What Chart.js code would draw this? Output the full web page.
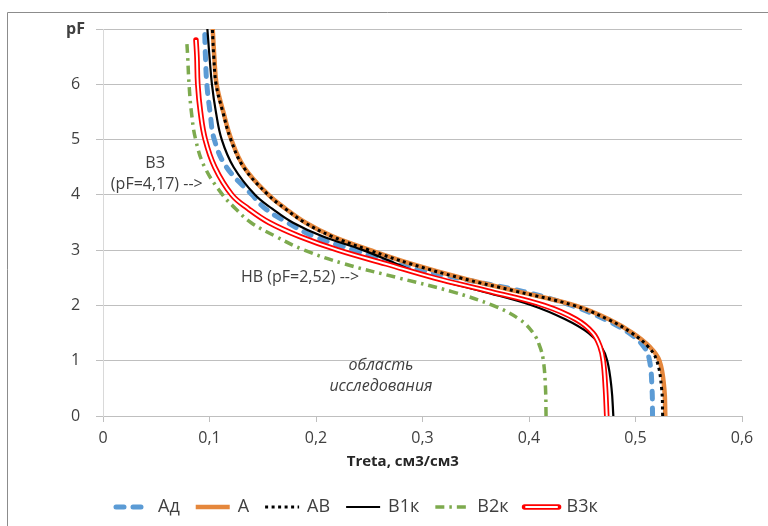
<!DOCTYPE html>
<html>
<head>
<meta charset="utf-8">
<title>pF</title>
<script src="https://cdn.jsdelivr.net/npm/chart.js@4/dist/chart.umd.min.js"></script>
<style>
  body { margin: 0; background: #fff; }
</style>
</head>
<body>
<canvas id="pfChart" width="768" height="526"></canvas>
<script>
// pF levels shared by all curves
const pF = [0, 0.5, 1, 1.25, 1.5, 1.75, 2, 2.25, 2.5, 2.75, 3, 3.25, 3.5, 3.75, 4, 4.5, 5, 5.5, 6, 6.5, 6.8, 7];

// moisture (Treta, cm3/cm3) per horizon at each pF level
const Ad  = [0.516, 0.5155, 0.5132, 0.508, 0.494, 0.471, 0.440, 0.395, 0.332, 0.276, 0.236, 0.198, 0.173, 0.1525, 0.140, 0.116, 0.1045, 0.1005, 0.0975, 0.0962, 0.0957, 0.0955];
const A   = [0.528, 0.527, 0.5225, 0.5135, 0.4975, 0.475, 0.443, 0.390, 0.336, 0.290, 0.251, 0.2155, 0.190, 0.1715, 0.1555, 0.1325, 0.1205, 0.113, 0.1067, 0.1045, 0.1036, 0.103];
const AB  = [0.5255, 0.5245, 0.520, 0.512, 0.4965, 0.474, 0.442, 0.389, 0.335, 0.289, 0.250, 0.2148, 0.1893, 0.171, 0.155, 0.132, 0.120, 0.1125, 0.1062, 0.104, 0.1032, 0.1027];
const B1k = [0.4792, 0.4775, 0.4735, 0.468, 0.456, 0.434, 0.403, 0.357, 0.308, 0.276, 0.244, 0.206, 0.178, 0.1588, 0.1427, 0.1227, 0.1115, 0.106, 0.1023, 0.100, 0.0988, 0.098];
const B2k = [0.416, 0.4155, 0.4135, 0.4103, 0.404, 0.391, 0.366, 0.3275, 0.277, 0.227, 0.189, 0.162, 0.1388, 0.1245, 0.1123, 0.0955, 0.087, 0.083, 0.0808, 0.0795, 0.0786, null];
const B3k = [0.473, 0.4718, 0.4697, 0.4668, 0.460, 0.444, 0.414, 0.364, 0.311, 0.266, 0.221, 0.1845, 0.156, 0.1365, 0.121, 0.105, 0.096, 0.0915, 0.089, 0.0882, 0.0873, null];

const xTicks = [0, 0.1, 0.2, 0.3, 0.4, 0.5, 0.6];

const FONT = "'Open Sans', sans-serif";
const TEXT = '#404040';

function curve(values) {
  return pF.map((p, i) => ({ x: values[i], y: p })).filter(pt => pt.x !== null);
}

// frame around the chart object
const framePlugin = {
  id: 'frame',
  beforeDraw(chart) {
    const ctx = chart.ctx;
    ctx.save();
    ctx.strokeStyle = '#8c8c8c';
    ctx.lineWidth = 1;
    ctx.beginPath();
    ctx.moveTo(7.5, chart.height);
    ctx.lineTo(7.5, 12.5);
    ctx.lineTo(chart.width, 12.5);
    ctx.stroke();
    ctx.restore();
  }
};

// text notes inside the plot and the x axis title
const notesPlugin = {
  id: 'notes',
  afterDraw(chart) {
    const ctx = chart.ctx;
    const xs = chart.scales.x, ys = chart.scales.y;
    const notes = [
      { text: 'ВЗ', x: 0.049, y: 4.575, style: 'normal' },
      { text: '(pF=4,17) -->', x: 0.0505, y: 4.195, style: 'normal' },
      { text: 'НВ (pF=2,52) -->', x: 0.185, y: 2.513, style: 'normal' },
      { text: 'область', x: 0.261, y: 0.922, style: 'italic' },
      { text: 'исследования', x: 0.261, y: 0.542, style: 'italic' }
    ];
    ctx.save();
    ctx.textAlign = 'center';
    ctx.textBaseline = 'middle';
    ctx.fillStyle = TEXT;
    notes.forEach(n => {
      ctx.font = n.style + ' 16px ' + FONT;
      ctx.fillText(n.text, xs.getPixelForValue(n.x), ys.getPixelForValue(n.y));
    });
    ctx.font = 'bold 15px ' + FONT;
    ctx.fillStyle = '#262626';
    ctx.fillText('Treta, см3/см3', xs.getPixelForValue(0.2815), chart.chartArea.bottom + 46);
    ctx.restore();
  }
};

// legend row with line samples taken from the datasets
const legendPlugin = {
  id: 'lineLegend',
  afterDraw(chart) {
    const ctx = chart.ctx;
    const y = 507;
    let x = 116;
    ctx.save();
    ctx.font = '18px ' + FONT;
    ctx.textBaseline = 'middle';
    ctx.fillStyle = TEXT;
    chart.data.datasets.forEach(ds => {
      if (ds.legendSkip) return;
      const w = 34;
      ctx.setLineDash(ds.borderDash || []);
      ctx.lineCap = ds.borderCapStyle || 'butt';
      ctx.lineWidth = ds.borderWidth;
      ctx.strokeStyle = ds.borderColor;
      ctx.beginPath();
      ctx.moveTo(x, y);
      ctx.lineTo(x + w, y);
      ctx.stroke();
      if (ds.innerColor) {
        ctx.lineWidth = ds.innerWidth;
        ctx.strokeStyle = ds.innerColor;
        ctx.beginPath();
        ctx.moveTo(x + 1.5, y);
        ctx.lineTo(x + w - 1.5, y);
        ctx.stroke();
      }
      ctx.setLineDash([]);
      const tx = x + w + 8;
      ctx.fillText(ds.label, tx, y);
      x = tx + ctx.measureText(ds.label).width + 16;
    });
    ctx.restore();
  }
};

new Chart('pfChart', {
  type: 'line',
  data: {
    datasets: [
      { label: 'Ад', data: curve(Ad), borderColor: '#5B9BD5', borderWidth: 5, borderDash: [8, 9], borderCapStyle: 'round', order: 6 },
      { label: 'А', data: curve(A), borderColor: '#E5873C', borderWidth: 4.5, order: 5 },
      { label: 'АВ', data: curve(AB), borderColor: '#000000', borderWidth: 3, borderDash: [3, 3.5], order: 4 },
      { label: 'В1к', data: curve(B1k), borderColor: '#000000', borderWidth: 2.2, order: 3 },
      { label: 'В2к', data: curve(B2k), borderColor: '#7DAA4E', borderWidth: 3.5, borderDash: [9, 5, 2.5, 5], order: 2 },
      { label: 'В3к', data: curve(B3k), borderColor: '#FF0000', borderWidth: 5.5, borderCapStyle: 'round', order: 1, innerColor: '#FFFFFF', innerWidth: 2 },
      { label: 'В3к-inner', data: curve(B3k), borderColor: '#FFFFFF', borderWidth: 2, order: 0, legendSkip: true }
    ]
  },
  options: {
    responsive: false,
    animation: false,
    elements: {
      point: { radius: 0 },
      line: { tension: 0.4, fill: false }
    },
    layout: { padding: { top: 29, right: 26, left: 0, bottom: 0 } },
    plugins: {
      legend: { display: false },
      tooltip: { enabled: false }
    },
    scales: {
      x: {
        type: 'linear',
        min: 0,
        max: 0.6,
        afterFit: s => { s.height = 110; },
        afterBuildTicks: s => { s.ticks = xTicks.map(v => ({ value: v })); },
        ticks: {
          font: { family: FONT, size: 16 },
          color: TEXT,
          padding: 7,
          maxRotation: 0,
          callback: v => String(Math.round(v * 10) / 10).replace('.', ',')
        },
        grid: { drawOnChartArea: false, drawTicks: true, tickLength: 6, color: '#bfbfbf' },
        border: { color: '#bfbfbf' }
      },
      y: {
        type: 'linear',
        min: 0,
        max: 7,
        afterFit: s => { s.width = 103; },
        ticks: {
          stepSize: 1,
          color: TEXT,
          padding: 11,
          crossAlign: 'center',
          font: c => ({ family: FONT, size: 16, weight: c.tick && c.tick.value === 7 ? 'bold' : 'normal' }),
          callback: v => v === 7 ? 'pF' : v
        },
        grid: { color: '#bfbfbf', tickLength: 7 },
        border: { color: '#d9d9d9' }
      }
    }
  },
  plugins: [framePlugin, notesPlugin, legendPlugin]
});
</script>
</body>
</html>
